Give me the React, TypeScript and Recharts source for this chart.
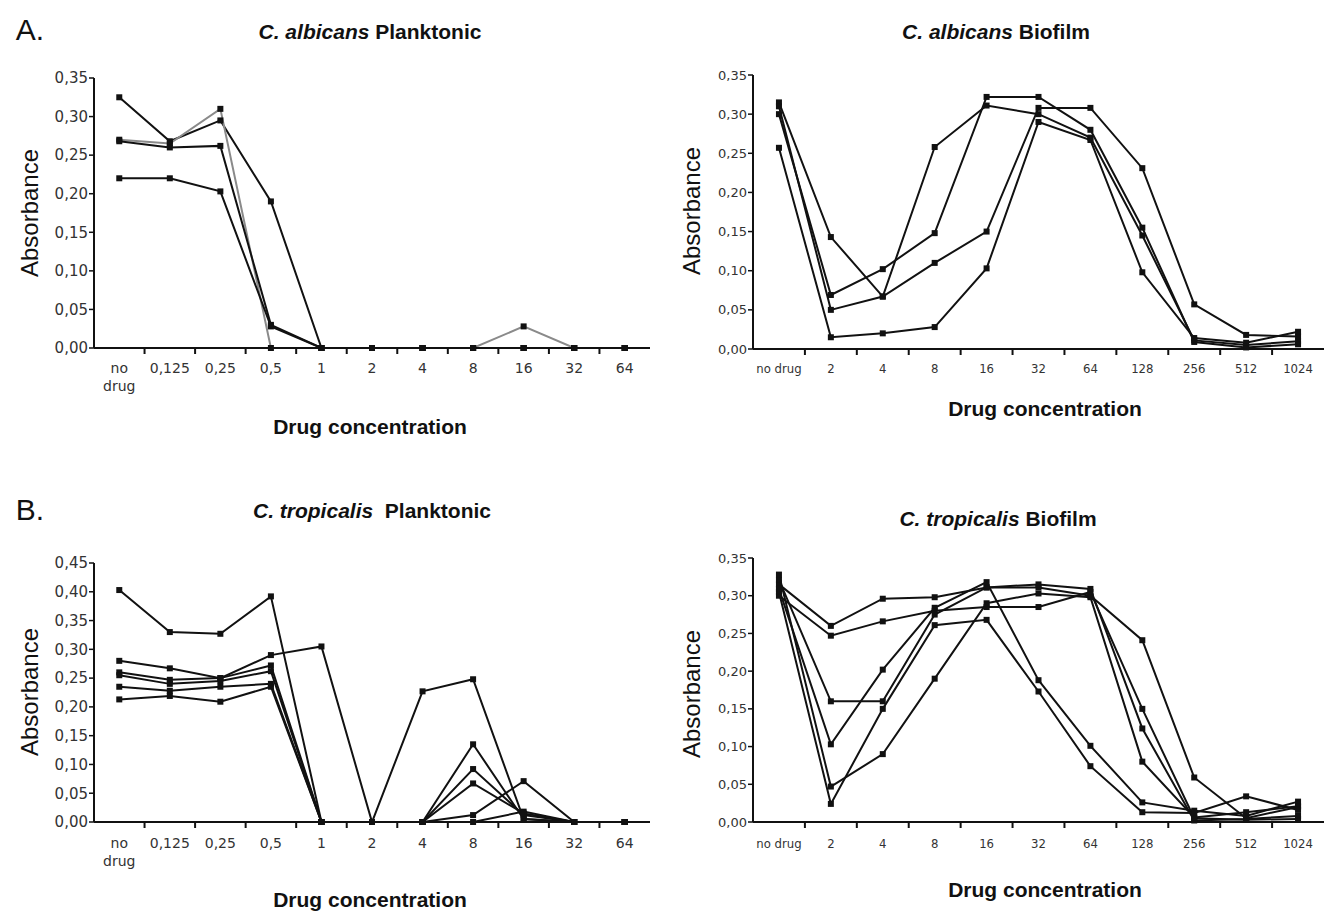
import { LineChart, Line, XAxis, YAxis } from "recharts";

// categories
const planktonicDoses = ["no drug", "0,125", "0,25", "0,5", "1", "2", "4", "8", "16", "32", "64"];
const biofilmDoses = ["no drug", "2", "4", "8", "16", "32", "64", "128", "256", "512", "1024"];

// y ticks
const ticks035 = [0, 0.05, 0.1, 0.15, 0.2, 0.25, 0.3, 0.35];
const ticks045 = [0, 0.05, 0.1, 0.15, 0.2, 0.25, 0.3, 0.35, 0.4, 0.45];

// A. C. albicans planktonic
const albPlank1 = [0.325, 0.268, 0.295, 0.19, 0, 0, 0, 0, 0, 0, 0];
const albPlank2 = [0.27, 0.265, 0.31, 0, 0, 0, 0, 0, 0.028, 0, 0];
const albPlank3 = [0.268, 0.26, 0.262, 0.03, 0, 0, 0, 0, 0, 0, 0];
const albPlank4 = [0.22, 0.22, 0.203, 0.028, 0, 0, 0, 0, 0, 0, 0];

// A. C. albicans biofilm
const albBio1 = [0.315, 0.143, 0.067, 0.258, 0.311, 0.3, 0.27, 0.145, 0.011, 0.005, 0.01];
const albBio2 = [0.3, 0.069, 0.102, 0.148, 0.322, 0.322, 0.28, 0.155, 0.009, 0.002, 0.006];
const albBio3 = [0.31, 0.05, 0.067, 0.11, 0.15, 0.308, 0.308, 0.231, 0.057, 0.018, 0.016];
const albBio4 = [0.257, 0.015, 0.02, 0.028, 0.103, 0.29, 0.267, 0.098, 0.014, 0.008, 0.022];

// B. C. tropicalis planktonic
const tropPlank1 = [0.403, 0.33, 0.327, 0.392, 0, 0, 0, 0, 0.018, 0, 0];
const tropPlank2 = [0.28, 0.267, 0.25, 0.29, 0.305, 0, 0.227, 0.248, 0.005, 0, 0];
const tropPlank3 = [0.26, 0.247, 0.25, 0.272, 0, 0, 0, 0.135, 0.005, 0, 0];
const tropPlank4 = [0.255, 0.24, 0.245, 0.262, 0, 0, 0, 0.092, 0.012, 0, 0];
const tropPlank5 = [0.235, 0.228, 0.235, 0.24, 0, 0, 0, 0.067, 0.015, 0, 0];
const tropPlank6 = [0.213, 0.219, 0.209, 0.235, 0, 0, 0, 0.012, 0.071, 0, 0];

// B. C. tropicalis biofilm
const tropBio1 = [0.315, 0.26, 0.296, 0.298, 0.311, 0.311, 0.3, 0.241, 0.059, 0.005, 0.02];
const tropBio2 = [0.3, 0.247, 0.266, 0.28, 0.285, 0.285, 0.305, 0.15, 0.005, 0.003, 0.004];
const tropBio3 = [0.321, 0.16, 0.16, 0.275, 0.311, 0.315, 0.309, 0.124, 0.002, 0.004, 0.008];
const tropBio4 = [0.309, 0.103, 0.202, 0.284, 0.318, 0.188, 0.101, 0.026, 0.015, 0.008, 0.027];
const tropBio5 = [0.328, 0.047, 0.09, 0.19, 0.29, 0.303, 0.298, 0.08, 0.006, 0.013, 0.021];
const tropBio6 = [0.305, 0.024, 0.15, 0.261, 0.268, 0.173, 0.074, 0.013, 0.012, 0.034, 0.016];

const SANS = "'Liberation Sans', Arial, Helvetica, sans-serif";
const TICK_FONT = "'DejaVu Sans', Verdana, sans-serif";
const NARROW_FONT = "'DejaVu Sans Condensed', 'DejaVu Sans', sans-serif";

const fmt = (v: number) => v.toFixed(2).replace(".", ",");

type PanelProps = {
  doses: string[];
  series: number[][];
  grayIdx?: number;
  yTicks: number[];
  left: number;
  top: number;
  x0: number;
  x1: number;
  y0: number;
  y1: number;
  labelDy: number;
  biofilm?: boolean;
};

const Square = (p: any) => {
  if (p.cx == null || p.cy == null) return <g key={`${p.dataKey}-${p.index}`} />;
  return <rect key={`${p.dataKey}-${p.index}`} x={p.cx - 3} y={p.cy - 3} width={6} height={6} fill="#111" />;
};

const Panel = ({ doses, series, grayIdx, yTicks, left, top, x0, x1, y0, y1, labelDy, biofilm }: PanelProps) => {
  const data = doses.map((d, i) => {
    const row: Record<string, any> = { dose: d };
    series.forEach((s, k) => (row[`s${k}`] = s[i]));
    return row;
  });
  const width = x1 - left + 2;
  const height = y1 - top + 75;
  const band = (x1 - x0) / doses.length;

  const DoseTick = (props: any) => {
    const { x, y, payload, index } = props;
    const label: string = payload.value;
    const bx = x - band / 2;
    return (
      <g>
        {index > 0 && <line x1={bx} x2={bx} y1={y} y2={y + 6} stroke="#111" strokeWidth={2} />}
        {biofilm ? (
          <text x={x} y={y + labelDy} textAnchor="middle" fontFamily={NARROW_FONT} fontSize={13} fill="#333">
            {label}
          </text>
        ) : label === "no drug" ? (
          <text x={x} y={y + labelDy} textAnchor="middle" fontFamily={TICK_FONT} fontSize={14} fill="#333">
            <tspan x={x}>no</tspan>
            <tspan x={x} dy={18}>drug</tspan>
          </text>
        ) : (
          <text x={x} y={y + labelDy} textAnchor="middle" fontFamily={TICK_FONT} fontSize={14} fill="#333">
            {label}
          </text>
        )}
      </g>
    );
  };

  return (
    <div style={{ position: "absolute", left, top }}>
      <LineChart width={width} height={height} data={data} margin={{ top: y0 - top, right: 2, left: 0, bottom: 0 }}>
        <XAxis
          dataKey="dose"
          interval={0}
          tickSize={0}
          tickMargin={0}
          padding={{ left: band / 2, right: band / 2 }}
          height={height - (y1 - top)}
          axisLine={{ stroke: "#111", strokeWidth: 2 }}
          tick={<DoseTick />}
        />
        <XAxis xAxisId="top" dataKey="dose" orientation="top" height={0} tick={false} tickLine={false} axisLine={{ stroke: "#9a9a9a", strokeWidth: 1.5 }} />
        <YAxis
          type="number"
          domain={[0, yTicks[yTicks.length - 1]]}
          ticks={yTicks}
          interval={0}
          width={x0 - left}
          tickFormatter={fmt}
          tickSize={5}
          tickMargin={1}
          axisLine={{ stroke: "#111", strokeWidth: 2 }}
          tickLine={{ stroke: "#111", strokeWidth: 1.5 }}
          tick={{ fontFamily: TICK_FONT, fontSize: biofilm ? 13 : 15, fill: "#333" }}
        />
        <YAxis yAxisId="right" orientation="right" type="number" domain={[0, 1]} width={0} tick={false} tickLine={false} axisLine={{ stroke: "#9a9a9a", strokeWidth: 1.5 }} />
        {series.map((_, k) => (
          <Line
            key={k}
            dataKey={`s${k}`}
            type="linear"
            stroke={k === grayIdx ? "#8a8a8a" : "#111"}
            strokeWidth={2}
            dot={Square}
            activeDot={false}
            isAnimationActive={false}
          />
        ))}
      </LineChart>
    </div>
  );
};

const Text = ({ x, y, size, bold, children, rotate }: any) => (
  <div
    style={{
      position: "absolute",
      left: x,
      top: y,
      transform: `translate(-50%, -50%)${rotate ? " rotate(-90deg)" : ""}`,
      whiteSpace: "nowrap",
      fontFamily: SANS,
      fontSize: size,
      fontWeight: bold ? 700 : 400,
      lineHeight: 1,
      color: "#111",
    }}
  >
    {children}
  </div>
);

const App = () => {
  return (
    <div style={{ position: "absolute", left: 0, top: 0, width: 1328, height: 912, background: "#fff", overflow: "hidden" }}>
      <Text x={30} y={30} size={30}>A.</Text>
      <Text x={370} y={31} size={21} bold>
        <i>C. albicans</i> Planktonic
      </Text>
      <Text x={996} y={31} size={21} bold>
        <i>C. albicans</i> Biofilm
      </Text>
      <Text x={30} y={510} size={30}>B.</Text>
      <Text x={372} y={510} size={21} bold>
        <i>C. tropicalis</i>&nbsp;&nbsp;Planktonic
      </Text>
      <Text x={998} y={518} size={21} bold>
        <i>C. tropicalis</i> Biofilm
      </Text>

      <Text x={30} y={213} size={24} rotate>Absorbance</Text>
      <Text x={692} y={211} size={24} rotate>Absorbance</Text>
      <Text x={30} y={692} size={24} rotate>Absorbance</Text>
      <Text x={692} y={694} size={24} rotate>Absorbance</Text>

      <Text x={370} y={426} size={21} bold>Drug concentration</Text>
      <Text x={1045} y={408} size={21} bold>Drug concentration</Text>
      <Text x={370} y={899} size={21} bold>Drug concentration</Text>
      <Text x={1045} y={889} size={21} bold>Drug concentration</Text>

      <Panel
        doses={planktonicDoses}
        series={[albPlank1, albPlank2, albPlank3, albPlank4]}
        grayIdx={1}
        yTicks={ticks035}
        left={0}
        top={0}
        x0={94}
        x1={650}
        y0={78}
        y1={348}
        labelDy={25}
      />
      <Panel
        doses={biofilmDoses}
        series={[albBio1, albBio2, albBio3, albBio4]}
        yTicks={ticks035}
        left={660}
        top={0}
        x0={753}
        x1={1324}
        y0={75}
        y1={349}
        labelDy={24}
        biofilm
      />
      <Panel
        doses={planktonicDoses}
        series={[tropPlank1, tropPlank2, tropPlank3, tropPlank4, tropPlank5, tropPlank6]}
        yTicks={ticks045}
        left={0}
        top={450}
        x0={94}
        x1={650}
        y0={563}
        y1={822}
        labelDy={26}
      />
      <Panel
        doses={biofilmDoses}
        series={[tropBio1, tropBio2, tropBio3, tropBio4, tropBio5, tropBio6]}
        yTicks={ticks035}
        left={660}
        top={450}
        x0={753}
        x1={1324}
        y0={558}
        y1={822}
        labelDy={26}
        biofilm
      />
    </div>
  );
};

export default App;
